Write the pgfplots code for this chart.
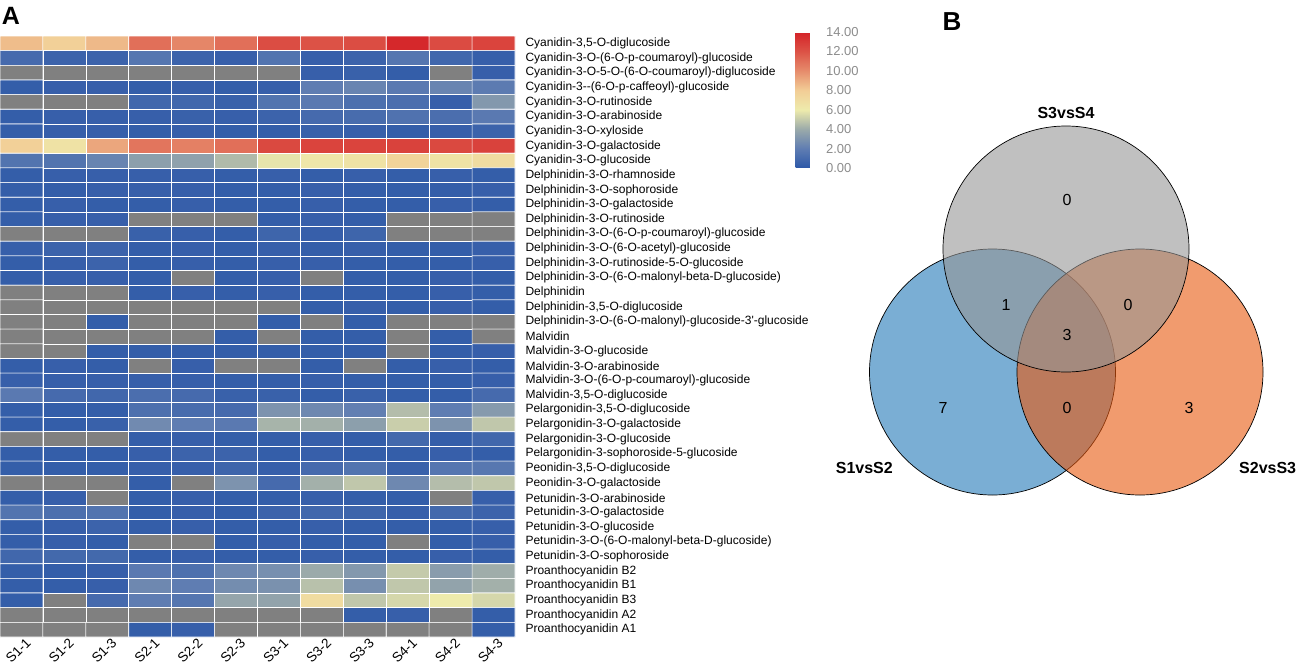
\documentclass[border=0pt]{standalone}
\usepackage{pgfplots}
\pgfplotsset{compat=1.18}
\usepackage{fontspec}
\setmainfont{Liberation Sans}

\definecolor{vblue}{RGB}{33,120,183}
\definecolor{vorange}{RGB}{232,88,13}
\definecolor{vgray}{RGB}{150,150,150}
\definecolor{cbtext}{RGB}{140,140,140}

% heat: value v sits at position v+2; -1.5 marks "not detected" (gray)
\pgfplotsset{
  colormap={heat}{rgb255(0cm)=(128,128,128) rgb255(1cm)=(128,128,128)
    rgb255(2cm)=(45,88,168) rgb255(4cm)=(95,125,178) rgb255(6cm)=(155,170,170)
    rgb255(8cm)=(238,235,172) rgb255(10cm)=(242,205,150) rgb255(12cm)=(230,140,108)
    rgb255(14cm)=(220,82,70) rgb255(16cm)=(212,35,40)},
  colormap={heatbar}{rgb255(0cm)=(45,88,168) rgb255(2cm)=(95,125,178) rgb255(4cm)=(155,170,170)
    rgb255(6cm)=(238,235,172) rgb255(8cm)=(242,205,150) rgb255(10cm)=(230,140,108)
    rgb255(12cm)=(220,82,70) rgb255(14cm)=(212,35,40)},
}

\begin{document}
\begin{tikzpicture}
\useasboundingbox (0,0) rectangle (1299pt,665pt);

% ---- A: heatmap ----
\begin{axis}[at={(0pt,28pt)}, anchor=south west,
  width=515pt, height=601pt, scale only axis,
  xmin=-0.5, xmax=11.5, ymin=-0.5, ymax=40.5, y dir=reverse,
  axis line style={draw=none}, major tick length=0pt,
  xtick={0,...,11},
  xticklabels={S1-1,S1-2,S1-3,S2-1,S2-2,S2-3,S3-1,S3-2,S3-3,S4-1,S4-2,S4-3},
  xticklabel style={rotate=45, anchor=north east, xshift=6pt, yshift=1pt, font=\fontsize{13.5}{15}\selectfont},
  ytick={0,...,40}, yticklabel pos=right,
  yticklabels={
    {Cyanidin-3,5-O-diglucoside},
    {Cyanidin-3-O-(6-O-p-coumaroyl)-glucoside},
    {Cyanidin-3-O-5-O-(6-O-coumaroyl)-diglucoside},
    {Cyanidin-3-{}-(6-O-p-caffeoyl)-glucoside},
    {Cyanidin-3-O-rutinoside},
    {Cyanidin-3-O-arabinoside},
    {Cyanidin-3-O-xyloside},
    {Cyanidin-3-O-galactoside},
    {Cyanidin-3-O-glucoside},
    {Delphinidin-3-O-rhamnoside},
    {Delphinidin-3-O-sophoroside},
    {Delphinidin-3-O-galactoside},
    {Delphinidin-3-O-rutinoside},
    {Delphinidin-3-O-(6-O-p-coumaroyl)-glucoside},
    {Delphinidin-3-O-(6-O-acetyl)-glucoside},
    {Delphinidin-3-O-rutinoside-5-O-glucoside},
    {Delphinidin-3-O-(6-O-malonyl-beta-D-glucoside)},
    {Delphinidin},
    {Delphinidin-3,5-O-diglucoside},
    {Delphinidin-3-O-(6-O-malonyl)-glucoside-3\textquotesingle-glucoside},
    {Malvidin},
    {Malvidin-3-O-glucoside},
    {Malvidin-3-O-arabinoside},
    {Malvidin-3-O-(6-O-p-coumaroyl)-glucoside},
    {Malvidin-3,5-O-diglucoside},
    {Pelargonidin-3,5-O-diglucoside},
    {Pelargonidin-3-O-galactoside},
    {Pelargonidin-3-O-glucoside},
    {Pelargonidin-3-sophoroside-5-glucoside},
    {Peonidin-3,5-O-diglucoside},
    {Peonidin-3-O-galactoside},
    {Petunidin-3-O-arabinoside},
    {Petunidin-3-O-galactoside},
    {Petunidin-3-O-glucoside},
    {Petunidin-3-O-(6-O-malonyl-beta-D-glucoside)},
    {Petunidin-3-O-sophoroside},
    {Proanthocyanidin B2},
    {Proanthocyanidin B1},
    {Proanthocyanidin B3},
    {Proanthocyanidin A2},
    {Proanthocyanidin A1}},
  yticklabel style={anchor=west, xshift=7pt, font=\fontsize{12}{14}\selectfont},
  colormap name=heat, point meta min=-2, point meta max=14]
\addplot[matrix plot*, mesh/cols=12, point meta=explicit, draw=white, line width=0.6pt]
  table[row sep=\\, meta=c] {
x y c\\
0 0 8.5\\ 1 0 7.8\\ 2 0 8.6\\ 3 0 11.0\\ 4 0 10.2\\ 5 0 11.0\\ 6 0 12.2\\ 7 0 12.0\\ 8 0 12.2\\ 9 0 13.8\\ 10 0 12.3\\ 11 0 12.6\\
0 1 1.0\\ 1 1 0.6\\ 2 1 0.6\\ 3 1 1.6\\ 4 1 0.6\\ 5 1 0.4\\ 6 1 1.5\\ 7 1 0.4\\ 8 1 0.6\\ 9 1 1.6\\ 10 1 0.8\\ 11 1 0.4\\
0 2 -1.5\\ 1 2 -1.5\\ 2 2 -1.5\\ 3 2 -1.5\\ 4 2 -1.5\\ 5 2 -1.5\\ 6 2 -1.5\\ 7 2 0.4\\ 8 2 0.5\\ 9 2 0.3\\ 10 2 -1.5\\ 11 2 0.4\\
0 3 0.3\\ 1 3 0.4\\ 2 3 0.4\\ 3 3 0.3\\ 4 3 0.4\\ 5 3 0.3\\ 6 3 0.4\\ 7 3 2.0\\ 8 3 2.3\\ 9 3 1.8\\ 10 3 2.3\\ 11 3 1.9\\
0 4 -1.5\\ 1 4 -1.5\\ 2 4 -1.5\\ 3 4 0.8\\ 4 4 0.8\\ 5 4 0.5\\ 6 4 1.5\\ 7 4 1.8\\ 8 4 1.3\\ 9 4 1.2\\ 10 4 0.4\\ 11 4 3.2\\
0 5 0.3\\ 1 5 0.4\\ 2 5 0.4\\ 3 5 0.4\\ 4 5 0.5\\ 5 5 0.4\\ 6 5 0.6\\ 7 5 1.0\\ 8 5 1.1\\ 9 5 1.4\\ 10 5 1.2\\ 11 5 1.8\\
0 6 0.3\\ 1 6 0.4\\ 2 6 0.4\\ 3 6 0.3\\ 4 6 0.4\\ 5 6 0.3\\ 6 6 0.3\\ 7 6 0.5\\ 8 6 0.4\\ 9 6 0.3\\ 10 6 0.4\\ 11 6 0.6\\
0 7 7.8\\ 1 7 6.6\\ 2 7 9.2\\ 3 7 10.8\\ 4 7 10.4\\ 5 7 11.0\\ 6 7 12.4\\ 7 7 12.6\\ 8 7 12.6\\ 9 7 12.7\\ 10 7 12.4\\ 11 7 12.7\\
0 8 1.5\\ 1 8 1.5\\ 2 8 2.3\\ 3 8 3.5\\ 4 8 3.6\\ 5 8 4.5\\ 6 8 5.8\\ 7 8 6.3\\ 8 8 6.6\\ 9 8 7.6\\ 10 8 6.6\\ 11 8 7.0\\
0 9 0.3\\ 1 9 0.4\\ 2 9 0.4\\ 3 9 0.4\\ 4 9 0.4\\ 5 9 0.3\\ 6 9 0.4\\ 7 9 0.3\\ 8 9 0.4\\ 9 9 0.3\\ 10 9 0.4\\ 11 9 0.3\\
0 10 0.3\\ 1 10 0.3\\ 2 10 0.4\\ 3 10 0.4\\ 4 10 0.4\\ 5 10 0.3\\ 6 10 0.3\\ 7 10 0.4\\ 8 10 0.3\\ 9 10 0.3\\ 10 10 0.3\\ 11 10 0.4\\
0 11 0.3\\ 1 11 0.4\\ 2 11 0.3\\ 3 11 0.3\\ 4 11 0.4\\ 5 11 0.3\\ 6 11 0.3\\ 7 11 0.4\\ 8 11 0.3\\ 9 11 0.3\\ 10 11 0.4\\ 11 11 0.3\\
0 12 0.3\\ 1 12 0.4\\ 2 12 0.4\\ 3 12 -1.5\\ 4 12 -1.5\\ 5 12 -1.5\\ 6 12 0.3\\ 7 12 0.4\\ 8 12 0.3\\ 9 12 -1.5\\ 10 12 -1.5\\ 11 12 -1.5\\
0 13 -1.5\\ 1 13 -1.5\\ 2 13 -1.5\\ 3 13 0.5\\ 4 13 0.4\\ 5 13 0.3\\ 6 13 0.7\\ 7 13 0.4\\ 8 13 0.7\\ 9 13 -1.5\\ 10 13 -1.5\\ 11 13 -1.5\\
0 14 0.4\\ 1 14 0.6\\ 2 14 0.6\\ 3 14 0.3\\ 4 14 0.4\\ 5 14 0.3\\ 6 14 0.4\\ 7 14 0.3\\ 8 14 0.4\\ 9 14 0.3\\ 10 14 0.3\\ 11 14 0.4\\
0 15 0.3\\ 1 15 0.4\\ 2 15 0.6\\ 3 15 0.3\\ 4 15 0.4\\ 5 15 0.3\\ 6 15 0.4\\ 7 15 0.4\\ 8 15 0.3\\ 9 15 0.3\\ 10 15 0.3\\ 11 15 0.4\\
0 16 0.3\\ 1 16 0.4\\ 2 16 0.4\\ 3 16 0.3\\ 4 16 -1.5\\ 5 16 0.3\\ 6 16 0.4\\ 7 16 -1.5\\ 8 16 0.3\\ 9 16 0.3\\ 10 16 0.4\\ 11 16 0.3\\
0 17 -1.5\\ 1 17 -1.5\\ 2 17 -1.5\\ 3 17 0.3\\ 4 17 0.4\\ 5 17 0.3\\ 6 17 0.4\\ 7 17 0.3\\ 8 17 0.3\\ 9 17 0.3\\ 10 17 0.4\\ 11 17 0.3\\
0 18 -1.5\\ 1 18 -1.5\\ 2 18 -1.5\\ 3 18 -1.5\\ 4 18 -1.5\\ 5 18 -1.5\\ 6 18 -1.5\\ 7 18 0.3\\ 8 18 0.4\\ 9 18 0.3\\ 10 18 0.4\\ 11 18 0.3\\
0 19 -1.5\\ 1 19 -1.5\\ 2 19 0.3\\ 3 19 -1.5\\ 4 19 -1.5\\ 5 19 -1.5\\ 6 19 0.3\\ 7 19 -1.5\\ 8 19 0.3\\ 9 19 -1.5\\ 10 19 -1.5\\ 11 19 -1.5\\
0 20 -1.5\\ 1 20 -1.5\\ 2 20 -1.5\\ 3 20 -1.5\\ 4 20 -1.5\\ 5 20 0.3\\ 6 20 -1.5\\ 7 20 0.3\\ 8 20 0.3\\ 9 20 -1.5\\ 10 20 0.3\\ 11 20 -1.5\\
0 21 -1.5\\ 1 21 -1.5\\ 2 21 0.3\\ 3 21 0.3\\ 4 21 0.3\\ 5 21 0.3\\ 6 21 0.3\\ 7 21 0.3\\ 8 21 0.3\\ 9 21 -1.5\\ 10 21 0.3\\ 11 21 0.4\\
0 22 0.3\\ 1 22 0.4\\ 2 22 0.3\\ 3 22 -1.5\\ 4 22 0.4\\ 5 22 -1.5\\ 6 22 -1.5\\ 7 22 0.3\\ 8 22 -1.5\\ 9 22 0.3\\ 10 22 0.4\\ 11 22 0.3\\
0 23 0.4\\ 1 23 0.4\\ 2 23 0.4\\ 3 23 0.4\\ 4 23 0.4\\ 5 23 0.3\\ 6 23 0.3\\ 7 23 0.4\\ 8 23 0.3\\ 9 23 0.3\\ 10 23 0.3\\ 11 23 0.4\\
0 24 1.8\\ 1 24 1.0\\ 2 24 0.8\\ 3 24 1.2\\ 4 24 1.0\\ 5 24 0.5\\ 6 24 0.5\\ 7 24 0.3\\ 8 24 0.5\\ 9 24 0.3\\ 10 24 0.3\\ 11 24 1.0\\
0 25 0.3\\ 1 25 0.3\\ 2 25 0.3\\ 3 25 1.3\\ 4 25 1.1\\ 5 25 1.0\\ 6 25 3.0\\ 7 25 2.5\\ 8 25 2.1\\ 9 25 4.6\\ 10 25 2.0\\ 11 25 3.3\\
0 26 0.3\\ 1 26 0.3\\ 2 26 0.5\\ 3 26 2.6\\ 4 26 2.0\\ 5 26 1.8\\ 6 26 4.3\\ 7 26 4.2\\ 8 26 3.5\\ 9 26 5.1\\ 10 26 3.0\\ 11 26 4.9\\
0 27 -1.5\\ 1 27 -1.5\\ 2 27 -1.5\\ 3 27 0.3\\ 4 27 0.4\\ 5 27 0.3\\ 6 27 0.3\\ 7 27 0.4\\ 8 27 0.3\\ 9 27 0.9\\ 10 27 0.3\\ 11 27 0.8\\
0 28 0.3\\ 1 28 0.3\\ 2 28 0.3\\ 3 28 0.4\\ 4 28 0.6\\ 5 28 0.6\\ 6 28 0.3\\ 7 28 0.4\\ 8 28 0.3\\ 9 28 0.3\\ 10 28 0.4\\ 11 28 0.3\\
0 29 0.3\\ 1 29 0.3\\ 2 29 0.3\\ 3 29 0.4\\ 4 29 0.4\\ 5 29 0.7\\ 6 29 0.4\\ 7 29 1.0\\ 8 29 1.5\\ 9 29 0.5\\ 10 29 1.6\\ 11 29 1.7\\
0 30 -1.5\\ 1 30 -1.5\\ 2 30 -1.5\\ 3 30 0.3\\ 4 30 -1.5\\ 5 30 3.0\\ 6 30 1.0\\ 7 30 4.2\\ 8 30 4.9\\ 9 30 2.5\\ 10 30 4.6\\ 11 30 4.9\\
0 31 0.3\\ 1 31 0.4\\ 2 31 -1.5\\ 3 31 0.3\\ 4 31 0.4\\ 5 31 0.3\\ 6 31 0.3\\ 7 31 0.4\\ 8 31 0.3\\ 9 31 0.3\\ 10 31 -1.5\\ 11 31 0.4\\
0 32 1.5\\ 1 32 1.3\\ 2 32 1.5\\ 3 32 0.3\\ 4 32 0.4\\ 5 32 0.3\\ 6 32 0.6\\ 7 32 0.8\\ 8 32 0.7\\ 9 32 0.4\\ 10 32 0.9\\ 11 32 0.6\\
0 33 0.3\\ 1 33 0.4\\ 2 33 0.6\\ 3 33 0.3\\ 4 33 0.4\\ 5 33 0.3\\ 6 33 0.3\\ 7 33 0.4\\ 8 33 0.3\\ 9 33 0.3\\ 10 33 0.3\\ 11 33 0.4\\
0 34 0.3\\ 1 34 0.4\\ 2 34 0.3\\ 3 34 -1.5\\ 4 34 -1.5\\ 5 34 0.3\\ 6 34 0.4\\ 7 34 0.3\\ 8 34 0.3\\ 9 34 -1.5\\ 10 34 0.3\\ 11 34 0.4\\
0 35 0.8\\ 1 35 0.9\\ 2 35 0.9\\ 3 35 0.3\\ 4 35 0.4\\ 5 35 0.3\\ 6 35 0.3\\ 7 35 0.4\\ 8 35 0.3\\ 9 35 0.3\\ 10 35 0.4\\ 11 35 0.3\\
0 36 0.3\\ 1 36 0.3\\ 2 36 0.4\\ 3 36 1.8\\ 4 36 1.3\\ 5 36 2.5\\ 6 36 2.8\\ 7 36 4.0\\ 8 36 3.2\\ 9 36 5.0\\ 10 36 3.4\\ 11 36 4.1\\
0 37 0.3\\ 1 37 0.3\\ 2 37 0.4\\ 3 37 2.5\\ 4 37 2.0\\ 5 37 2.7\\ 6 37 2.9\\ 7 37 4.7\\ 8 37 2.8\\ 9 37 4.9\\ 10 37 3.7\\ 11 37 4.2\\
0 38 0.3\\ 1 38 -1.5\\ 2 38 1.0\\ 3 38 2.0\\ 4 38 1.6\\ 5 38 3.8\\ 6 38 3.7\\ 7 38 7.0\\ 8 38 4.9\\ 9 38 5.4\\ 10 38 6.0\\ 11 38 5.4\\
0 39 -1.5\\ 1 39 -1.5\\ 2 39 -1.5\\ 3 39 -1.5\\ 4 39 -1.5\\ 5 39 -1.5\\ 6 39 -1.5\\ 7 39 -1.5\\ 8 39 0.3\\ 9 39 0.4\\ 10 39 -1.5\\ 11 39 0.3\\
0 40 -1.5\\ 1 40 -1.5\\ 2 40 -1.5\\ 3 40 0.3\\ 4 40 0.4\\ 5 40 -1.5\\ 6 40 -1.5\\ 7 40 -1.5\\ 8 40 -1.5\\ 9 40 -1.5\\ 10 40 -1.5\\ 11 40 0.3\\
};
\end{axis}

% ---- colour scale ----
\begin{axis}[at={(787pt,497pt)}, anchor=south west,
  width=21pt, height=136pt, scale only axis, hide axis,
  xmin=0, xmax=1, ymin=0, ymax=14,
  colormap name=heatbar, point meta min=0, point meta max=14,
  colorbar,
  colorbar style={at={(parent axis.south west)}, anchor=south west,
    width=21pt, height=136pt, scale only axis,
    axis line style={draw=none}, major tick length=0pt,
    ytick={0,2,...,14}, yticklabel shift=6pt,
    yticklabel style={font=\fontsize{13}{14}\selectfont, text=cbtext,
      /pgf/number format/.cd, fixed, fixed zerofill, precision=2, assume math mode=true}}]
\addplot[draw=none, forget plot] coordinates {(0,0) (1,14)};
\end{axis}

% ---- B: Venn diagram ----
\begin{axis}[at={(860pt,0pt)}, anchor=south west,
  width=439pt, height=665pt, scale only axis, hide axis, clip=false,
  xmin=860, xmax=1299, ymin=0, ymax=665, y dir=reverse]
\draw[black, line width=0.7pt, fill=vblue, fill opacity=0.6] (axis cs:992.5,372) circle[radius=123];
\draw[black, line width=0.7pt, fill=vorange, fill opacity=0.6] (axis cs:1140,372) circle[radius=123];
\draw[black, line width=0.7pt, fill=vgray, fill opacity=0.6] (axis cs:1066,249) circle[radius=123];
\begin{scope}[every node/.style={font=\fontsize{16}{18}\selectfont}]
\node at (axis cs:1067,200) {0};
\node at (axis cs:1006,305) {1};
\node at (axis cs:1128,305) {0};
\node at (axis cs:1067,335) {3};
\node at (axis cs:943,408) {7};
\node at (axis cs:1067,408) {0};
\node at (axis cs:1189,408) {3};
\end{scope}
\node[font=\bfseries\fontsize{16}{18}\selectfont] at (axis cs:1066,113) {S3vsS4};
\node[font=\bfseries\fontsize{16}{18}\selectfont, anchor=east, inner sep=0pt] at (axis cs:893,468) {S1vsS2};
\node[font=\bfseries\fontsize{16}{18}\selectfont, anchor=west, inner sep=0pt] at (axis cs:1239,468) {S2vsS3};
\end{axis}

\node[font=\bfseries\fontsize{25}{28}\selectfont] at (11pt,649pt) {A};
\node[font=\bfseries\fontsize{26}{28}\selectfont] at (952pt,643pt) {B};
\end{tikzpicture}
\end{document}
